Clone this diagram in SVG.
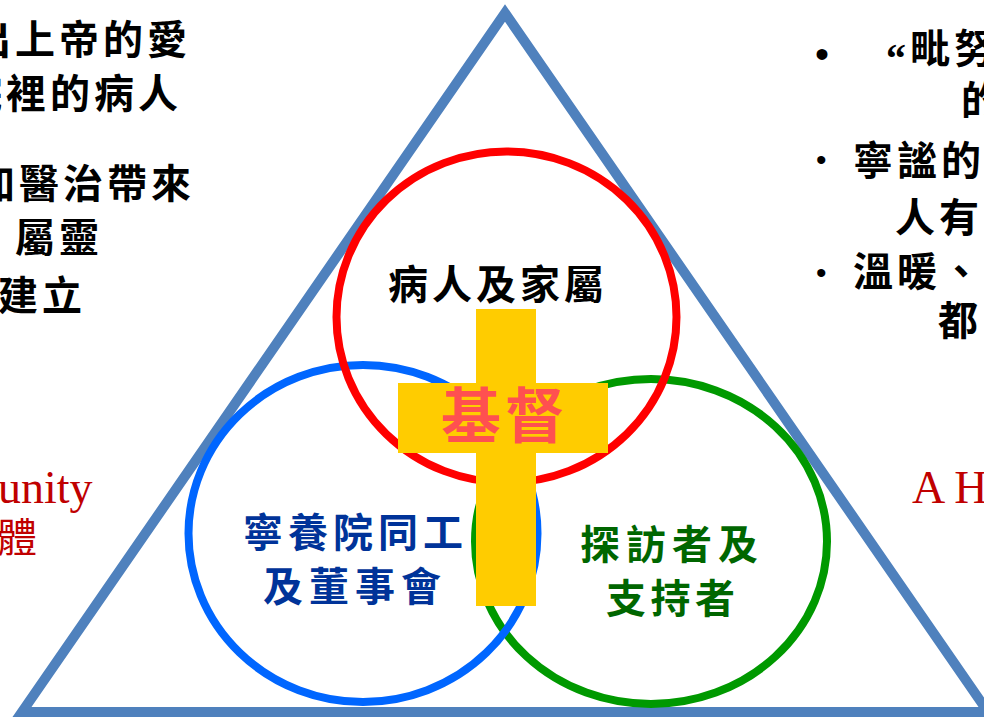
<svg xmlns="http://www.w3.org/2000/svg" width="984" height="717" viewBox="0 0 984 717">
<style>
.cjk{font-family:"Noto Sans CJK TC","Noto Sans CJK SC",sans-serif;font-weight:bold;font-size:40px}
.side{fill:#000000;letter-spacing:4px}
.en{font-family:"Liberation Serif",serif;font-size:46px;fill:#C00000}
.ring{fill:none;stroke-width:8}
.bul{font-family:"Liberation Sans",sans-serif;fill:#000000}
</style>
<rect width="984" height="717" fill="#FFFFFF"/>
<g id="triangle">
<polygon points="505,13 22,712 988,712" fill="none" stroke="#4F81BD" stroke-width="10" stroke-linejoin="miter"/>
</g>
<g id="connectors"/>
<g id="node-visitors">
<ellipse class="ring" cx="651" cy="541.5" rx="176" ry="162.5" stroke="#009900"/>
<text class="cjk" x="580" y="559" fill="#006600" letter-spacing="6">探訪者及</text>
<text class="cjk" x="606" y="613" fill="#006600" letter-spacing="4.5">支持者</text>
</g>
<g id="node-staff">
<ellipse class="ring" cx="363" cy="533.5" rx="174.5" ry="168.5" stroke="#0066FF"/>
<text class="cjk" x="243" y="547" fill="#003399" letter-spacing="5">寧養院同工</text>
<text class="cjk" x="263" y="601" fill="#003399" letter-spacing="6">及董事會</text>
</g>
<g id="node-patients">
<ellipse class="ring" cx="506.5" cy="317" rx="170" ry="165.5" stroke="#FF0000"/>
<text class="cjk" x="388" y="299" fill="#000000" letter-spacing="4">病人及家屬</text>
</g>
<g id="node-christ">
<rect x="476" y="309" width="60" height="297" fill="#FFCC00"/>
<rect x="398" y="383" width="210" height="70" fill="#FFCC00"/>
<text class="cjk" x="441" y="438" fill="#FF5050" font-size="60" letter-spacing="4" style="font-size:60px">基督</text>
</g>
<g id="left-text">
<text class="cjk side" x="-29" y="54">出上帝的愛</text>
<text class="cjk side" x="-38" y="108">院裡的病人</text>
<text class="cjk side" x="-25" y="198" letter-spacing="3">加醫治帶來</text>
<text class="cjk side" x="15" y="252">屬靈</text>
<text class="cjk side" x="-2" y="310">建立</text>
<text class="en" x="-2" y="503">unity</text>
<text class="cjk" x="-3" y="552" fill="#C00000" style="font-weight:normal">體</text>
</g>
<g id="right-text">
<text class="bul" x="815" y="68" font-size="40">•</text>
<text x="886" y="72" font-family="Liberation Serif, serif" font-size="40" font-weight="bold" fill="#000000">“</text>
<text class="cjk side" x="910" y="63" letter-spacing="5">毗努</text>
<text class="cjk side" x="961" y="115">的</text>
<text class="bul" x="816" y="170" font-size="30">•</text>
<text class="cjk side" x="853" y="175" letter-spacing="5">寧謐的</text>
<text class="cjk side" x="895" y="232" letter-spacing="5">人有</text>
<text class="bul" x="816" y="283" font-size="30">•</text>
<text class="cjk side" x="853" y="286" letter-spacing="5">溫暖、</text>
<text class="cjk side" x="938" y="335">都</text>
<text class="en" x="912" y="503">A H</text>
</g>
</svg>
